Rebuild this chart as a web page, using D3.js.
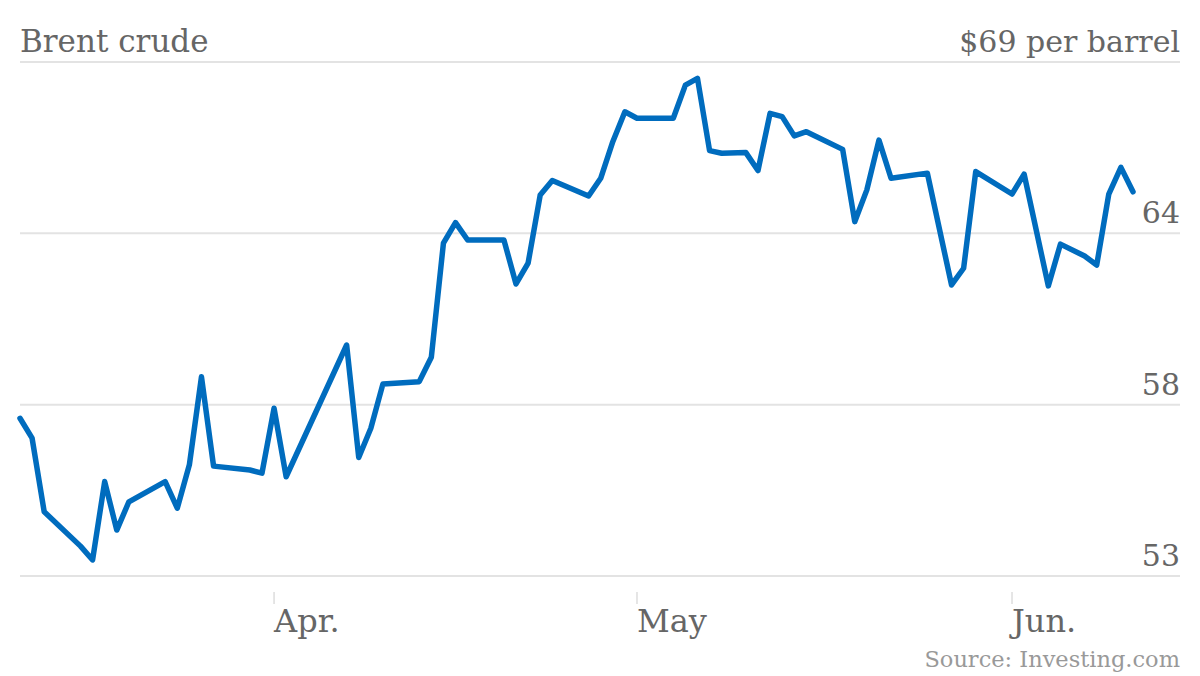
<!DOCTYPE html>
<html>
<head>
<meta charset="utf-8">
<script src="https://cdn.jsdelivr.net/npm/d3@7"></script>
<style>
  html, body { margin: 0; padding: 0; background: #fff; }
  svg { display: block; }
  text { font-family: "DejaVu Serif", "Liberation Serif", serif; }
</style>
</head>
<body>
<svg id="chart" width="1200" height="676"></svg>
<script>
// ---- Data (Brent crude, 2015) ----
const dates = [
  "2015-03-11","2015-03-12","2015-03-13","2015-03-16","2015-03-17","2015-03-18","2015-03-19","2015-03-20",
  "2015-03-23","2015-03-24","2015-03-25","2015-03-26","2015-03-27","2015-03-30","2015-03-31",
  "2015-04-01","2015-04-02","2015-04-07","2015-04-08","2015-04-09","2015-04-10",
  "2015-04-13","2015-04-14","2015-04-15","2015-04-16","2015-04-17",
  "2015-04-20","2015-04-21","2015-04-22","2015-04-23","2015-04-24",
  "2015-04-27","2015-04-28","2015-04-29","2015-04-30","2015-05-01",
  "2015-05-04","2015-05-05","2015-05-06","2015-05-07","2015-05-08","2015-05-10",
  "2015-05-11","2015-05-12","2015-05-13","2015-05-14","2015-05-15",
  "2015-05-18","2015-05-19","2015-05-20","2015-05-21","2015-05-22",
  "2015-05-25","2015-05-27","2015-05-28","2015-05-29",
  "2015-06-01","2015-06-02","2015-06-04","2015-06-05","2015-06-07",
  "2015-06-08","2015-06-09","2015-06-10","2015-06-11"
];
const prices = [
  57.91,57.29,55.00,53.93,53.50,55.94,54.43,55.31,
  55.94,55.11,56.46,59.20,56.42,56.30,56.20,
  58.22,56.09,60.19,56.69,57.60,58.98,
  59.05,59.81,63.36,64.00,63.46,
  63.46,62.09,62.74,64.86,65.31,
  64.83,65.38,66.52,67.45,67.25,
  67.25,68.28,68.49,66.24,66.16,66.18,
  65.62,67.40,67.30,66.70,66.83,
  66.28,64.03,65.02,66.57,65.38,
  65.54,62.06,62.58,65.59,
  64.89,65.51,62.03,63.33,62.96,
  62.68,64.89,65.72,64.96
];
const yTickValues = [53, 53 + 16/3, 53 + 32/3, 69];
const yTickLabels = ["53", "58", "64", "$69 per barrel"];
const xTickDates = ["2015-04-01", "2015-05-01", "2015-06-01"];
const xTickLabels = ["Apr.", "May", "Jun."];
const title = "Brent crude";
const source = "Source: Investing.com";

// ---- Layout ----
const W = 1200, H = 676;
const left = 20, right = 1180;
const svg = d3.select("#chart");
const parse = d3.utcParse("%Y-%m-%d");
const data = dates.map((d, i) => ({ date: parse(d), value: prices[i] }));

const x = d3.scaleUtc()
  .domain([parse("2015-03-11"), parse("2015-06-11")])
  .range([20, 1133]);
const y = d3.scaleLinear().domain([53, 69]).range([576, 62]);

// gridlines
svg.append("g")
  .selectAll("line")
  .data(yTickValues)
  .join("line")
  .attr("x1", left).attr("x2", right)
  .attr("y1", d => y(d)).attr("y2", d => y(d))
  .attr("stroke", "#e3e3e3")
  .attr("stroke-width", 2);

// y labels
svg.append("g")
  .selectAll("text")
  .data(yTickValues)
  .join("text")
  .attr("x", right)
  .attr("y", d => y(d) - 10)
  .attr("text-anchor", "end")
  .attr("fill", "#666")
  .attr("font-size", 30)
  .text((d, i) => yTickLabels[i]);

// title
svg.append("text")
  .attr("x", left)
  .attr("y", y(69) - 10)
  .attr("fill", "#666")
  .attr("font-size", 31)
  .text(title);

// x axis ticks and labels
const xg = svg.append("g");
xTickDates.forEach((d, i) => {
  const px = x(parse(d));
  xg.append("line")
    .attr("x1", px).attr("x2", px)
    .attr("y1", 592).attr("y2", 604)
    .attr("stroke", "#ddd")
    .attr("stroke-width", 1.5);
  xg.append("text")
    .attr("x", px)
    .attr("y", 632)
    .attr("fill", "#666")
    .attr("font-size", 32)
    .text(xTickLabels[i]);
});

// line
const line = d3.line()
  .x(d => x(d.date))
  .y(d => y(d.value));
svg.append("path")
  .datum(data)
  .attr("d", line)
  .attr("fill", "none")
  .attr("stroke", "#006cbe")
  .attr("stroke-width", 5.5)
  .attr("stroke-linejoin", "round")
  .attr("stroke-linecap", "round");

// source
svg.append("text")
  .attr("x", right)
  .attr("y", 667)
  .attr("text-anchor", "end")
  .attr("fill", "#999")
  .attr("font-size", 22.5)
  .text(source);
</script>
</body>
</html>
